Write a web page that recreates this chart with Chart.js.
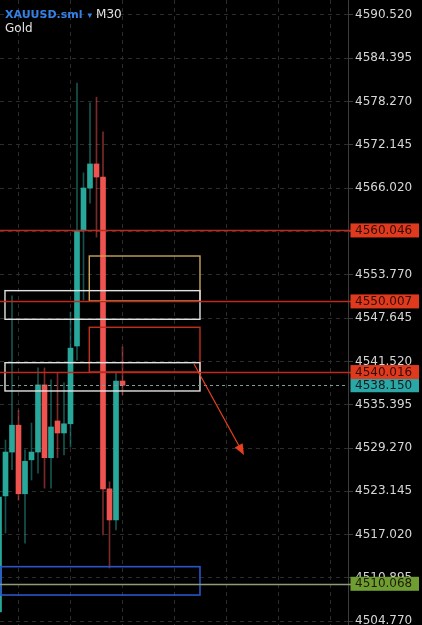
<!DOCTYPE html>
<html>
<head>
<meta charset="utf-8">
<script src="https://cdn.jsdelivr.net/npm/chart.js@4.4.1/dist/chart.umd.min.js"></script>
<style>
  html, body { margin: 0; padding: 0; background: #000; }
  #wrap { position: relative; width: 422px; height: 625px; overflow: hidden; }
  #chart { position: absolute; left: 0; top: 0; }
  .sym { position: absolute; left: 5px; top: 6px; font-family: 'DejaVu Sans', sans-serif; line-height: 13px; white-space: nowrap; }
  .sym .name { color: #3482e8; font-weight: bold; font-size: 11px; }
  .sym .arr { color: #3482e8; font-size: 9px; margin-left: 5px; }
  .sym .tf { color: #e2e2e2; font-size: 12px; margin-left: 4px; }
  .desc { position: absolute; left: 5px; top: 21px; font-family: 'DejaVu Sans', sans-serif; font-size: 12px; line-height: 14px; color: #e2e2e2; }
</style>
</head>
<body>
<div id="wrap">
  <canvas id="chart" width="422" height="625"></canvas>
  <div class="sym"><span class="name">XAUUSD.sml</span><span class="arr">▾</span><span class="tf">M30</span></div>
  <div class="desc">Gold</div>
</div>
<script>
// M30 candles, index 0 is cut by the left edge
const candleIdx = [0, 1, 2, 3, 4, 5, 6, 7, 8, 9, 10, 11, 12, 13, 14, 15, 16, 17, 18, 19];
const opens  = [4506.1, 4522.5, 4528.7, 4532.5, 4522.8, 4527.6, 4528.7, 4538.2, 4527.9, 4533.1,
                4531.4, 4532.7, 4543.7, 4560.0, 4566.05, 4569.45, 4567.6, 4523.5, 4519.1, 4538.75];
const highs  = [4523.0, 4530.4, 4550.8, 4534.6, 4529.0, 4532.8, 4540.6, 4540.6, 4538.9, 4539.9,
                4538.5, 4548.5, 4580.9, 4568.2, 4578.1, 4578.9, 4574.0, 4524.5, 4540.0, 4543.56];
const lows   = [4505.5, 4517.25, 4526.2, 4521.9, 4515.8, 4524.75, 4525.7, 4523.6, 4523.6, 4527.9,
                4528.3, 4529.4, 4541.7, 4550.2, 4563.9, 4559.1, 4516.97, 4512.3, 4517.7, 4536.8];
const closes = [4522.35, 4528.7, 4532.5, 4522.8, 4527.4, 4528.7, 4538.2, 4527.9, 4532.25, 4531.4,
                4532.7, 4543.4, 4559.9, 4566.05, 4569.45, 4567.6, 4523.5, 4519.1, 4538.75, 4538.15];

const yTicks = [4504.770, 4510.895, 4517.020, 4523.145, 4529.270, 4535.395, 4541.520, 4547.645,
                4553.770, 4559.895, 4566.020, 4572.145, 4578.270, 4584.395, 4590.520];
const xGrid = [3, 11, 19, 27, 35, 43, 51];

const redLevels = [4560.046, 4550.007, 4540.016];
const lastPrice = 4538.150;
const greenLevel = 4510.068;

// rectangles: [from index, to index, top price, bottom price]
const whiteBoxes = [[0.92, 30.92, 4551.53, 4547.48], [0.92, 30.92, 4541.34, 4537.34]];
const goldBox = [13.89, 30.92, 4556.43, 4550.07];
const redBox = [13.89, 30.92, 4546.35, 4540.02];
const blueBox = [0.3, 30.92, 4512.49, 4508.48];
// arrow: [index, price]
const arrowFrom = [30.0, 4541.16];
const arrowTo = [37.69, 4528.29];

const upColor = '#28a89b';
const downColor = '#ef5350';
const gridColor = '#2c2c2c';
const axisColor = '#3c3c3c';

const isUp = closes.map((c, i) => c >= opens[i]);

const drawings = {
    id: 'drawings',
    afterDatasetsDraw(chart) {
        const { ctx, chartArea, scales: { x, y } } = chart;
        const right = chartArea.right;

        ctx.save();
        ctx.beginPath();
        ctx.rect(chartArea.left, chartArea.top, chartArea.width, chartArea.height);
        ctx.clip();

        const box = (b, color, w) => {
            const x0 = x.getPixelForValue(b[0]);
            const x1 = x.getPixelForValue(b[1]);
            const y0 = y.getPixelForValue(b[2]);
            const y1 = y.getPixelForValue(b[3]);
            ctx.strokeStyle = color;
            ctx.lineWidth = w;
            ctx.strokeRect(x0, y0, x1 - x0, y1 - y0);
        };
        const hline = (p, color, w, dash) => {
            const py = Math.round(y.getPixelForValue(p)) + 0.5;
            ctx.strokeStyle = color;
            ctx.lineWidth = w;
            ctx.setLineDash(dash || []);
            ctx.beginPath();
            ctx.moveTo(chartArea.left, py);
            ctx.lineTo(right, py);
            ctx.stroke();
            ctx.setLineDash([]);
        };

        box(blueBox, '#2a55c8', 1.6);
        hline(greenLevel, '#8e9a78', 1.6);
        box(goldBox, '#c9a55a', 1.4);
        box(redBox, '#c0301f', 1.4);
        whiteBoxes.forEach(b => box(b, '#e2e2e2', 1.4));
        redLevels.forEach(p => hline(p, '#c02a1c', 1.5));
        hline(lastPrice, '#7f9c9a', 1, [3, 3]);

        // arrow
        const ax0 = x.getPixelForValue(arrowFrom[0]), ay0 = y.getPixelForValue(arrowFrom[1]);
        const ax1 = x.getPixelForValue(arrowTo[0]), ay1 = y.getPixelForValue(arrowTo[1]);
        const ang = Math.atan2(ay1 - ay0, ax1 - ax0);
        const hl = 11, hw = 4.5;
        ctx.strokeStyle = '#e8401e';
        ctx.fillStyle = '#e8401e';
        ctx.lineWidth = 1.2;
        ctx.beginPath();
        ctx.moveTo(ax0, ay0);
        ctx.lineTo(ax1 - Math.cos(ang) * hl * 0.8, ay1 - Math.sin(ang) * hl * 0.8);
        ctx.stroke();
        ctx.beginPath();
        ctx.moveTo(ax1, ay1);
        ctx.lineTo(ax1 - Math.cos(ang) * hl - Math.sin(ang) * hw, ay1 - Math.sin(ang) * hl + Math.cos(ang) * hw);
        ctx.lineTo(ax1 - Math.cos(ang) * hl + Math.sin(ang) * hw, ay1 - Math.sin(ang) * hl - Math.cos(ang) * hw);
        ctx.closePath();
        ctx.fill();
        ctx.restore();

        // line stubs through the axis gap
        ctx.save();
        const stub = (p, color, w) => {
            const py = Math.round(y.getPixelForValue(p)) + 0.5;
            ctx.strokeStyle = color;
            ctx.lineWidth = w;
            ctx.beginPath();
            ctx.moveTo(right, py);
            ctx.lineTo(right + 3, py);
            ctx.stroke();
        };
        redLevels.forEach(p => stub(p, '#c02a1c', 1.5));
        stub(greenLevel, '#8e9a78', 1.6);
        ctx.restore();
    },
    afterDraw(chart) {
        const { ctx, chartArea, scales: { y } } = chart;
        const tags = [
            [greenLevel, '#6e9e32'],
            [lastPrice, '#2aa8a8'],
            [redLevels[2], '#e03a1e'],
            [redLevels[1], '#e03a1e'],
            [redLevels[0], '#e03a1e']
        ];
        ctx.save();
        ctx.font = '12px "DejaVu Sans"';
        ctx.textBaseline = 'middle';
        ctx.textAlign = 'left';
        tags.forEach(([p, bg]) => {
            const py = y.getPixelForValue(p);
            ctx.fillStyle = bg;
            ctx.fillRect(chartArea.right + 2.5, py - 7, 68.5, 14);
            ctx.fillStyle = 'rgba(20, 4, 0, 0.85)';
            ctx.fillText(p.toFixed(3), chartArea.right + 7, py + 0.5);
        });
        ctx.restore();
    }
};

const ctx = document.getElementById('chart').getContext('2d');

new Chart(ctx, {
    type: 'bar',
    data: {
        datasets: [
            {
                label: 'body',
                data: candleIdx.map((v, i) => ({ x: v, y: [opens[i], closes[i]] })),
                backgroundColor: isUp.map(u => u ? upColor : downColor),
                barThickness: 5,
                grouped: false,
                borderWidth: 0
            },
            {
                label: 'wick',
                data: candleIdx.map((v, i) => ({ x: v, y: [lows[i], highs[i]] })),
                backgroundColor: isUp.map(u => u ? 'rgba(40, 168, 155, 0.5)' : 'rgba(239, 83, 80, 0.5)'),
                barThickness: 1,
                grouped: false,
                borderWidth: 0
            }
        ]
    },
    options: {
        responsive: false,
        animation: false,
        events: [],
        layout: { padding: 0 },
        plugins: {
            legend: { display: false },
            tooltip: { enabled: false }
        },
        scales: {
            x: {
                type: 'linear',
                min: 1 / 6.5,
                max: 349 / 6.5,
                offset: false,
                grid: { color: gridColor, offset: false, drawTicks: false },
                border: { display: false, dash: [4, 4] },
                ticks: { display: false },
                afterBuildTicks: s => { s.ticks = xGrid.map(v => ({ value: v })); },
                afterFit: s => { s.height = 0; s.paddingLeft = 0; s.paddingRight = 0; }
            },
            y: {
                position: 'right',
                min: 4504.24,
                max: 4592.64,
                grid: { color: gridColor, tickLength: 5, tickColor: axisColor },
                border: { display: true, color: axisColor, dash: [4, 4] },
                ticks: {
                    color: '#d6d6d6',
                    font: { family: 'DejaVu Sans', size: 12 },
                    padding: 2,
                    autoSkip: false,
                    callback: v => v.toFixed(3)
                },
                afterBuildTicks: s => { s.ticks = yTicks.map(v => ({ value: v })); },
                afterFit: s => { s.width = 74; s.paddingTop = 0; s.paddingBottom = 0; }
            }
        }
    },
    plugins: [drawings]
});
</script>
</body>
</html>
